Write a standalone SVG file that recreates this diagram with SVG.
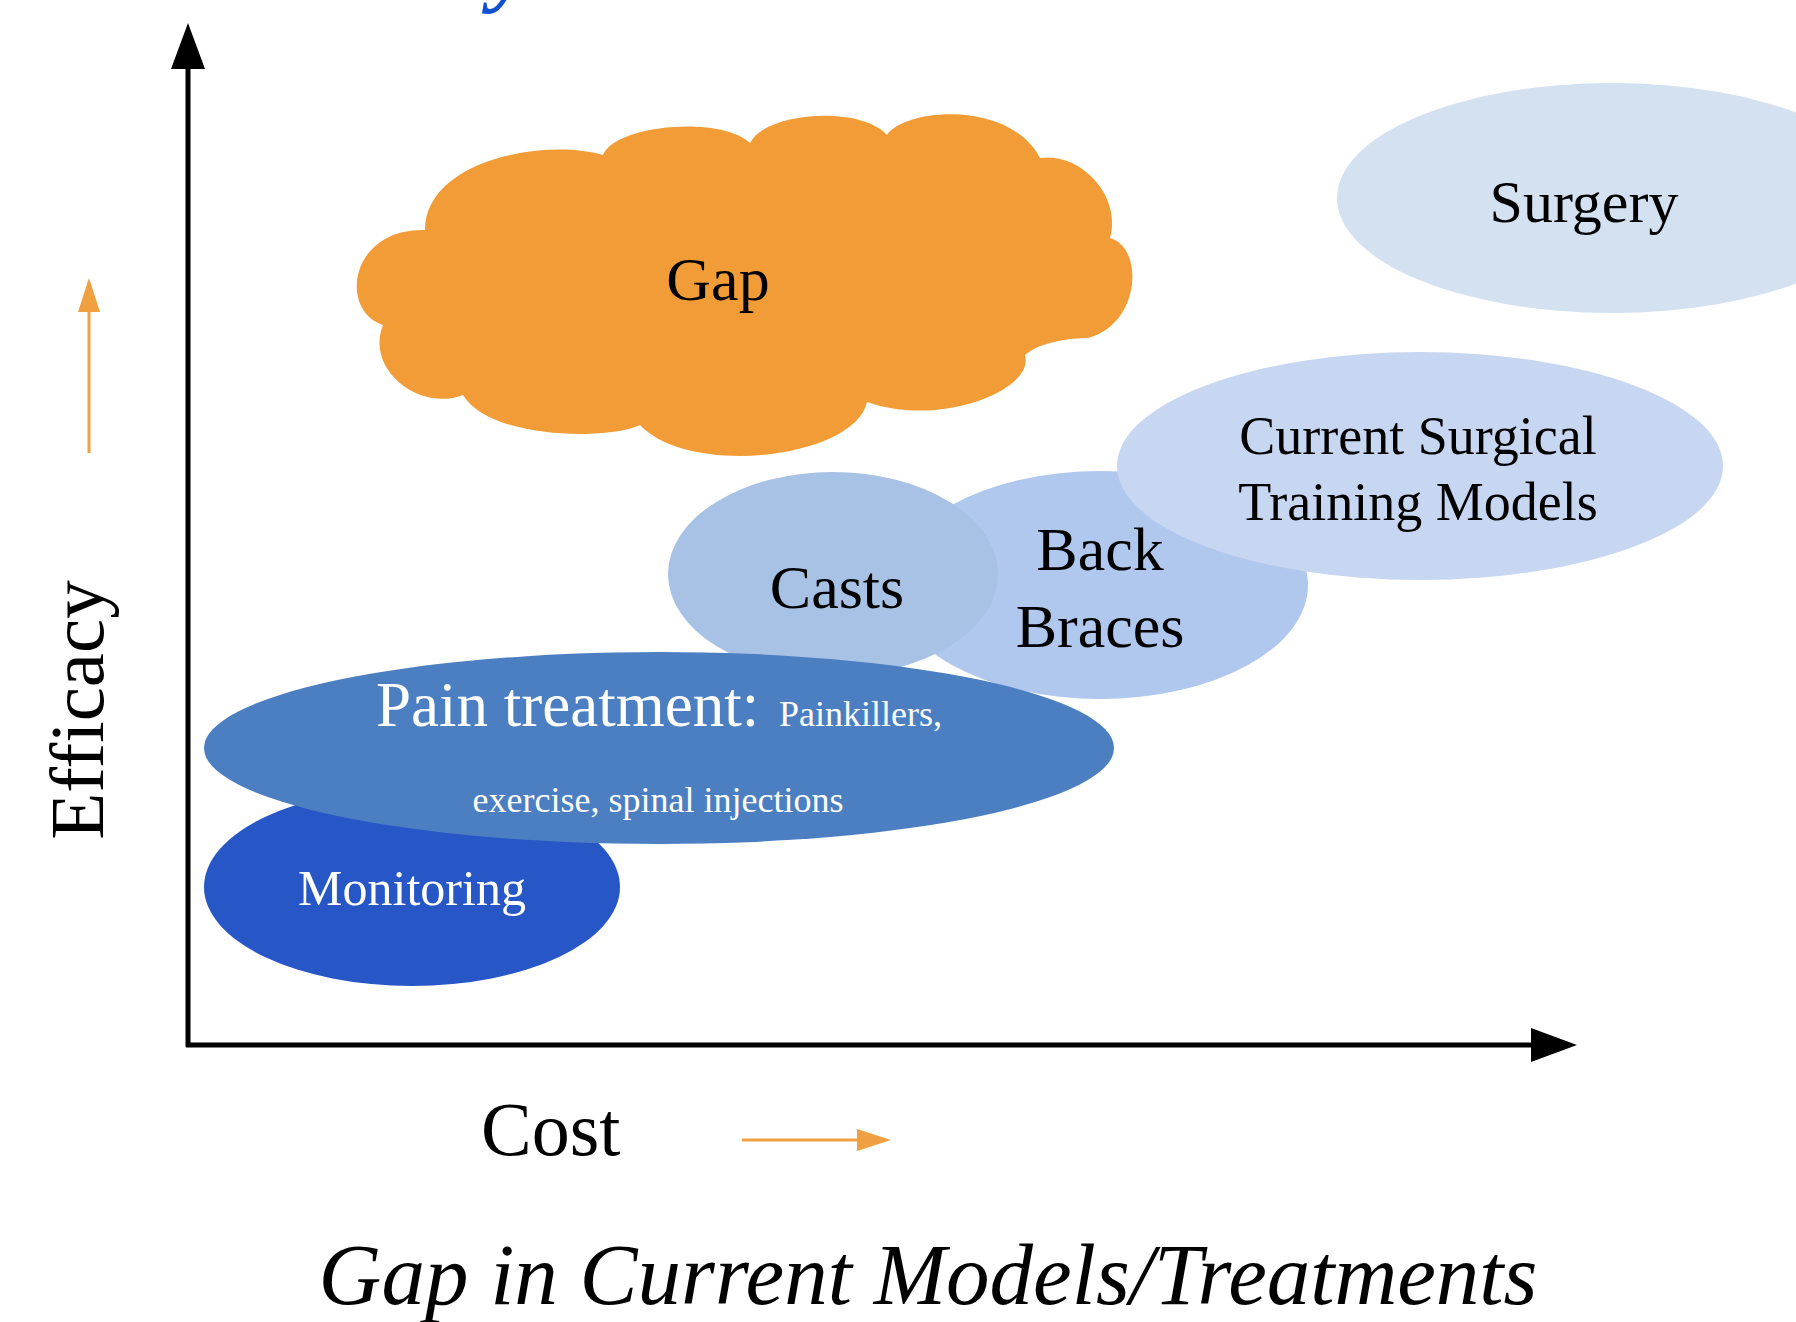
<svg xmlns="http://www.w3.org/2000/svg" width="1796" height="1322" viewBox="0 0 1796 1322">
  <style>
    .t { font-family: "Liberation Serif", "Times New Roman", serif; fill: #000; }
    .w { fill: #FFFFFF; }
    .axis { stroke: #000; stroke-width: 5; fill: none; }
    .oarrow { stroke: #F0A040; stroke-width: 3; fill: none; }
  </style>
  <defs>
    <marker id="axisHead" markerUnits="userSpaceOnUse" markerWidth="46" markerHeight="34" viewBox="0 0 46 34" refX="1" refY="17" orient="auto">
      <path d="M0,0 L46,17 L0,34 Z" fill="#000"/>
    </marker>
    <marker id="orangeHead" markerUnits="userSpaceOnUse" markerWidth="34" markerHeight="22" viewBox="0 0 34 22" refX="1" refY="11" orient="auto">
      <path d="M0,0 L34,11 L0,22 Z" fill="#F0A040"/>
    </marker>
  </defs>
  <rect width="1796" height="1322" fill="#FFFFFF"/>

  <text x="491" y="-5" font-family="Liberation Serif, serif" font-style="italic" font-weight="bold" font-size="90" fill="#1150D0">y</text>

  <g id="node-surgery">
    <ellipse cx="1612" cy="198" rx="275" ry="115" fill="#D4E1F1"/>
    <text class="t" x="1584" y="222" font-size="60" text-anchor="middle">Surgery</text>
  </g>

  <g id="node-gap">
    <path fill="#F29C37" d="M425,230 C425,160 545,138 603,155 C615,125 720,115 750,143 C765,112 860,105 887,135 C905,108 1010,100 1040,158 C1080,152 1122,195 1110,238 C1145,248 1140,325 1088,338 C1070,338 1040,342 1025,355 C1035,390 940,428 867,402 C855,458 690,478 640,425 C610,440 490,440 463,395 C420,412 365,370 383,325 C338,310 350,228 425,230 Z"/>
    <text class="t" x="718" y="300" font-size="62" text-anchor="middle">Gap</text>
  </g>

  <g id="node-back-braces">
    <ellipse cx="1100" cy="585" rx="208" ry="114" fill="#B0C7EE"/>
    <text class="t" x="1100" y="570" font-size="62" text-anchor="middle">Back</text>
    <text class="t" x="1100" y="647" font-size="62" text-anchor="middle">Braces</text>
  </g>

  <g id="node-current-surgical-training-models">
    <ellipse cx="1420" cy="466" rx="303" ry="114" fill="#C7D6F1"/>
    <text class="t" x="1418" y="454" font-size="54" text-anchor="middle">Current Surgical</text>
    <text class="t" x="1418" y="520" font-size="54" text-anchor="middle">Training Models</text>
  </g>

  <g id="node-casts">
    <ellipse cx="833" cy="574" rx="165" ry="102" fill="#A7C2E5"/>
    <text class="t" x="837" y="608" font-size="62" text-anchor="middle">Casts</text>
  </g>

  <g id="node-monitoring">
    <ellipse cx="412" cy="887" rx="208" ry="99" fill="#2757C6"/>
    <text class="t w" x="412" y="905" font-size="50" text-anchor="middle">Monitoring</text>
  </g>

  <g id="node-pain-treatment">
    <ellipse cx="659" cy="748" rx="455" ry="96" fill="#4B7FC1"/>
    <text class="t w" x="376" y="726" font-size="63">Pain treatment:<tspan x="779" font-size="36">Painkillers,</tspan></text>
    <text class="t w" x="658" y="812" font-size="36" text-anchor="middle">exercise, spinal injections</text>
  </g>

  <g id="connectors">
    <line class="axis" x1="188" y1="1047" x2="188" y2="68" marker-end="url(#axisHead)"/>
    <line class="axis" x1="186" y1="1045" x2="1532" y2="1045" marker-end="url(#axisHead)"/>
    <line class="oarrow" x1="89" y1="453" x2="89" y2="311" marker-end="url(#orangeHead)"/>
    <line class="oarrow" x1="742" y1="1140" x2="858" y2="1140" marker-end="url(#orangeHead)"/>
  </g>

  <g id="labels">
    <text class="t" font-size="77" text-anchor="middle" transform="translate(103,710) rotate(-90)">Efficacy</text>
    <text class="t" x="481" y="1155" font-size="76">Cost</text>
    <text class="t" x="928" y="1304" font-size="87" font-style="italic" text-anchor="middle">Gap in Current Models/Treatments</text>
  </g>
</svg>
